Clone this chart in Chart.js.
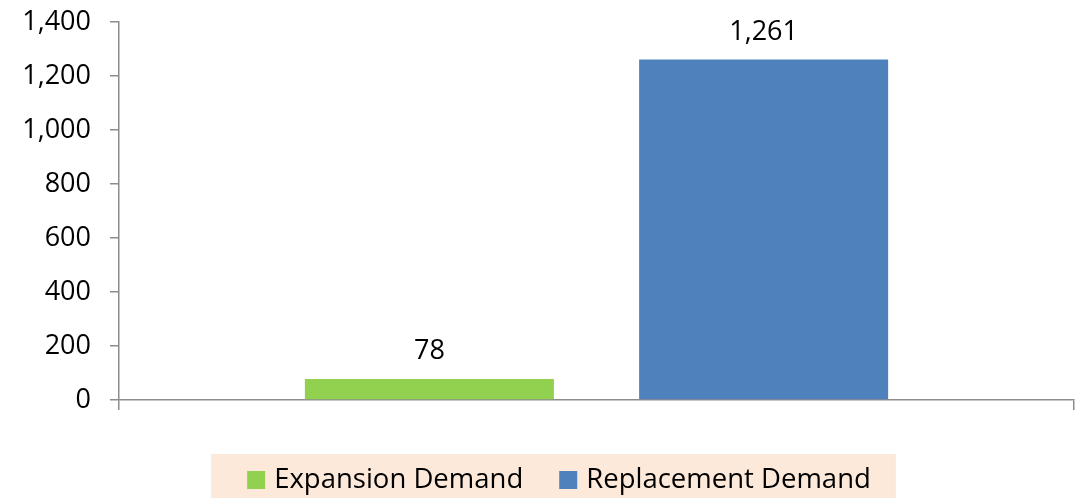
<!DOCTYPE html>
<html>
<head>
<meta charset="utf-8">
<script src="https://cdn.jsdelivr.net/npm/chart.js@4/dist/chart.umd.min.js"></script>
<style>
  html, body { margin: 0; padding: 0; background: #ffffff; }
  #wrap { width: 1077px; height: 498px; }
</style>
</head>
<body>
<div id="wrap"><canvas id="c" width="1077" height="498"></canvas></div>
<script>
// ---- data ----
const categories = [''];
const seriesNames = ['Expansion Demand', 'Replacement Demand'];
const expansionDemand = [78];
const replacementDemand = [1261];
const yTicks = [0, 200, 400, 600, 800, 1000, 1200, 1400];

// ---- styles ----
const FONT = "'Open Sans', 'Noto Sans', sans-serif";
const AXIS_COLOR = '#8c8c8c';
const seriesColors = ['#92D050', '#4F81BD'];
const fmt = v => Number(v).toLocaleString('en-US');

const dataLabelPlugin = {
  id: 'dataLabels',
  afterDatasetsDraw(chart) {
    const ctx = chart.ctx;
    ctx.save();
    ctx.fillStyle = '#000';
    ctx.font = '27px ' + FONT;
    ctx.textAlign = 'center';
    ctx.textBaseline = 'alphabetic';
    chart.data.datasets.forEach((ds, di) => {
      const meta = chart.getDatasetMeta(di);
      meta.data.forEach((el, i) => {
        ctx.fillText(fmt(ds.data[i]), el.x, el.y - 20);
      });
    });
    ctx.restore();
  }
};

const legendPlugin = {
  id: 'boxLegend',
  afterDraw(chart) {
    const ctx = chart.ctx;
    ctx.save();
    ctx.font = '27.5px ' + FONT;
    const padL = 36, padR = 25, sq = 18, gapTxt = 9, gapItem = 36;
    const items = chart.data.datasets.map(ds => ({
      label: ds.label, color: ds.backgroundColor, w: ctx.measureText(ds.label).width
    }));
    let total = padL + padR;
    items.forEach((it, i) => { total += sq + gapTxt + it.w + (i < items.length - 1 ? gapItem : 0); });
    const center = 553.5;
    const left = center - total / 2;
    const top = 454;
    ctx.fillStyle = '#FDE9D9';
    ctx.fillRect(left, top, total, chart.height - top);
    let x = left + padL;
    const base = 488;
    items.forEach(it => {
      ctx.fillStyle = it.color;
      ctx.fillRect(x, 471, sq, sq);
      x += sq + gapTxt;
      ctx.fillStyle = '#000';
      ctx.textAlign = 'left';
      ctx.textBaseline = 'alphabetic';
      ctx.fillText(it.label, x, base);
      x += it.w + gapItem;
    });
    ctx.restore();
  }
};

new Chart(document.getElementById('c'), {
  type: 'bar',
  data: {
    labels: categories,
    datasets: [
      { label: seriesNames[0], data: expansionDemand, backgroundColor: seriesColors[0] },
      { label: seriesNames[1], data: replacementDemand, backgroundColor: seriesColors[1] }
    ]
  },
  options: {
    responsive: false,
    animation: false,
    devicePixelRatio: 1,
    categoryPercentage: 0.70,
    barPercentage: 0.745,
    layout: { padding: { top: 22, right: 3, left: 0, bottom: 0 } },
    plugins: {
      legend: { display: false },
      tooltip: { enabled: false },
      title: { display: false }
    },
    scales: {
      x: {
        grid: { display: true, offset: true, drawOnChartArea: false, drawTicks: true, tickLength: 10, color: AXIS_COLOR, lineWidth: 1.5 },
        border: { display: true, color: AXIS_COLOR, width: 1.5 },
        ticks: { display: false },
        afterFit(scale) { scale.height = 98; scale.paddingLeft = 0; scale.paddingRight = 0; }
      },
      y: {
        min: 0,
        max: 1400,
        afterBuildTicks(scale) { scale.ticks = yTicks.map(v => ({ value: v })); },
        ticks: {
          color: '#000',
          font: { family: FONT, size: 27 },
          padding: 19,
          callback: v => fmt(v)
        },
        grid: { display: true, drawOnChartArea: false, drawTicks: true, tickLength: 9, color: AXIS_COLOR, lineWidth: 1.5 },
        border: { display: true, color: AXIS_COLOR, width: 1.5 },
        afterFit(scale) { scale.width = 119; scale.paddingTop = 0; scale.paddingBottom = 0; }
      }
    }
  },
  plugins: [dataLabelPlugin, legendPlugin]
});
</script>
</body>
</html>
